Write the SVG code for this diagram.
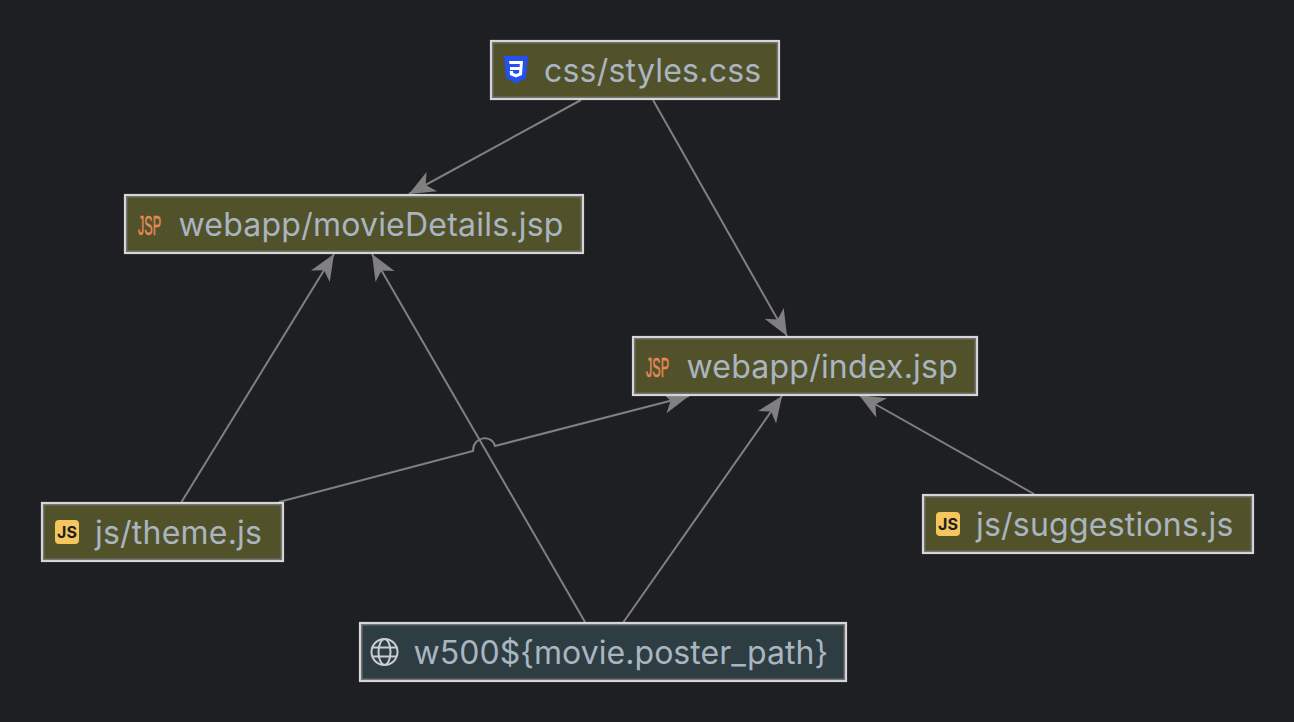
<svg xmlns="http://www.w3.org/2000/svg" width="1294" height="722" viewBox="0 0 1294 722">
<style>
.box{stroke:#d8d8d8;stroke-width:2.200}
.inner{fill:none;stroke:#747474;stroke-width:1.500}
.file{fill:#52522a}
.url{fill:#2e3d42}
.lbl{font-family:Inter,"Noto Sans",sans-serif;font-size:32px;letter-spacing:.22px;fill:#a9b5c1}
.jsp{font-family:"Liberation Sans",sans-serif;font-size:28px;fill:#e48a57;stroke:#e48a57;stroke-width:.6}
.js{font-family:Inter,"Liberation Sans",sans-serif;font-size:16px;font-weight:700;fill:#1e1f22;text-anchor:middle}
.edge{fill:none;stroke:#808080;stroke-width:2;marker-end:url(#arrow)}
.globe{fill:none;stroke:#c9cdd2;stroke-width:2}
</style>
<defs>
<marker id="arrow" markerUnits="userSpaceOnUse" markerWidth="30" markerHeight="26" refX="27" refY="13" orient="auto">
<path d="M27,13 L1,2 L8,13 L1,24 Z" fill="#808080"/>
</marker>
</defs>
<rect width="1294" height="722" fill="#1e1f22"/>
<g id="connectors">
<path class="edge" d="M581,100 L409,194"/>
<path class="edge" d="M653,100 L787,336"/>
<path class="edge" d="M181.500,502 L334,254"/>
<path class="edge" d="M279,502 L473,451 C473,436 492,434 495,446 L689,396"/>
<path class="edge" d="M585,622 L372,254"/>
<path class="edge" d="M623.500,622 L782,396"/>
<path class="edge" d="M1034,494 L859,395"/>
</g>
<g id="node-styles">
<rect class="box file" x="491" y="41" width="288" height="58"/>
<rect class="inner" x="492.700" y="42.700" width="284.600" height="54.600"/>
<path d="M504,56 H528 L526,78 L516,83.500 L506,78 Z" fill="#2450f0"/>
<path d="M509,61 H523 L522,75 L516,77.500 L510,75 L509.700,71 H513 L513.300,73 L516,74 L519,73 L519.300,70 H510 V67 H519.600 L519.800,64 H509.500 Z" fill="#ffffff"/>
<text class="lbl" x="544" y="82">css/styles.css</text>
</g>
<g id="node-moviedetails">
<rect class="box file" x="125" y="195" width="458" height="58"/>
<rect class="inner" x="126.700" y="196.700" width="454.600" height="54.600"/>
<text class="jsp" transform="translate(138,235) scale(.45,1)">JSP</text>
<text class="lbl" x="178.500" y="236">webapp/movieDetails.jsp</text>
</g>
<g id="node-index">
<rect class="box file" x="633" y="337" width="344" height="58"/>
<rect class="inner" x="634.700" y="338.700" width="340.600" height="54.600"/>
<text class="jsp" transform="translate(646,377) scale(.45,1)">JSP</text>
<text class="lbl" x="686.500" y="378">webapp/index.jsp</text>
</g>
<g id="node-theme">
<rect class="box file" x="42" y="503" width="241" height="58"/>
<rect class="inner" x="43.700" y="504.700" width="237.600" height="54.600"/>
<rect x="55" y="520" width="24" height="24" rx="4" fill="#f5c65c"/>
<text class="js" x="67" y="538">JS</text>
<text class="lbl" x="95" y="544">js/theme.js</text>
</g>
<g id="node-suggestions">
<rect class="box file" x="923" y="495" width="330" height="58"/>
<rect class="inner" x="924.700" y="496.700" width="326.600" height="54.600"/>
<rect x="936" y="512" width="24" height="24" rx="4" fill="#f5c65c"/>
<text class="js" x="948" y="530">JS</text>
<text class="lbl" x="976" y="536">js/suggestions.js</text>
</g>
<g id="node-poster">
<rect class="box url" x="360" y="623" width="486" height="58"/>
<rect class="inner" x="361.700" y="624.700" width="482.600" height="54.600"/>
<circle class="globe" cx="384.500" cy="652" r="13"/>
<ellipse class="globe" cx="384.500" cy="652" rx="6" ry="13"/>
<path class="globe" d="M372,647.500 H397 M372,656.500 H397"/>
<text class="lbl" x="413.500" y="664" style="letter-spacing:.05px">w500${movie.poster_path}</text>
</g>
</svg>
